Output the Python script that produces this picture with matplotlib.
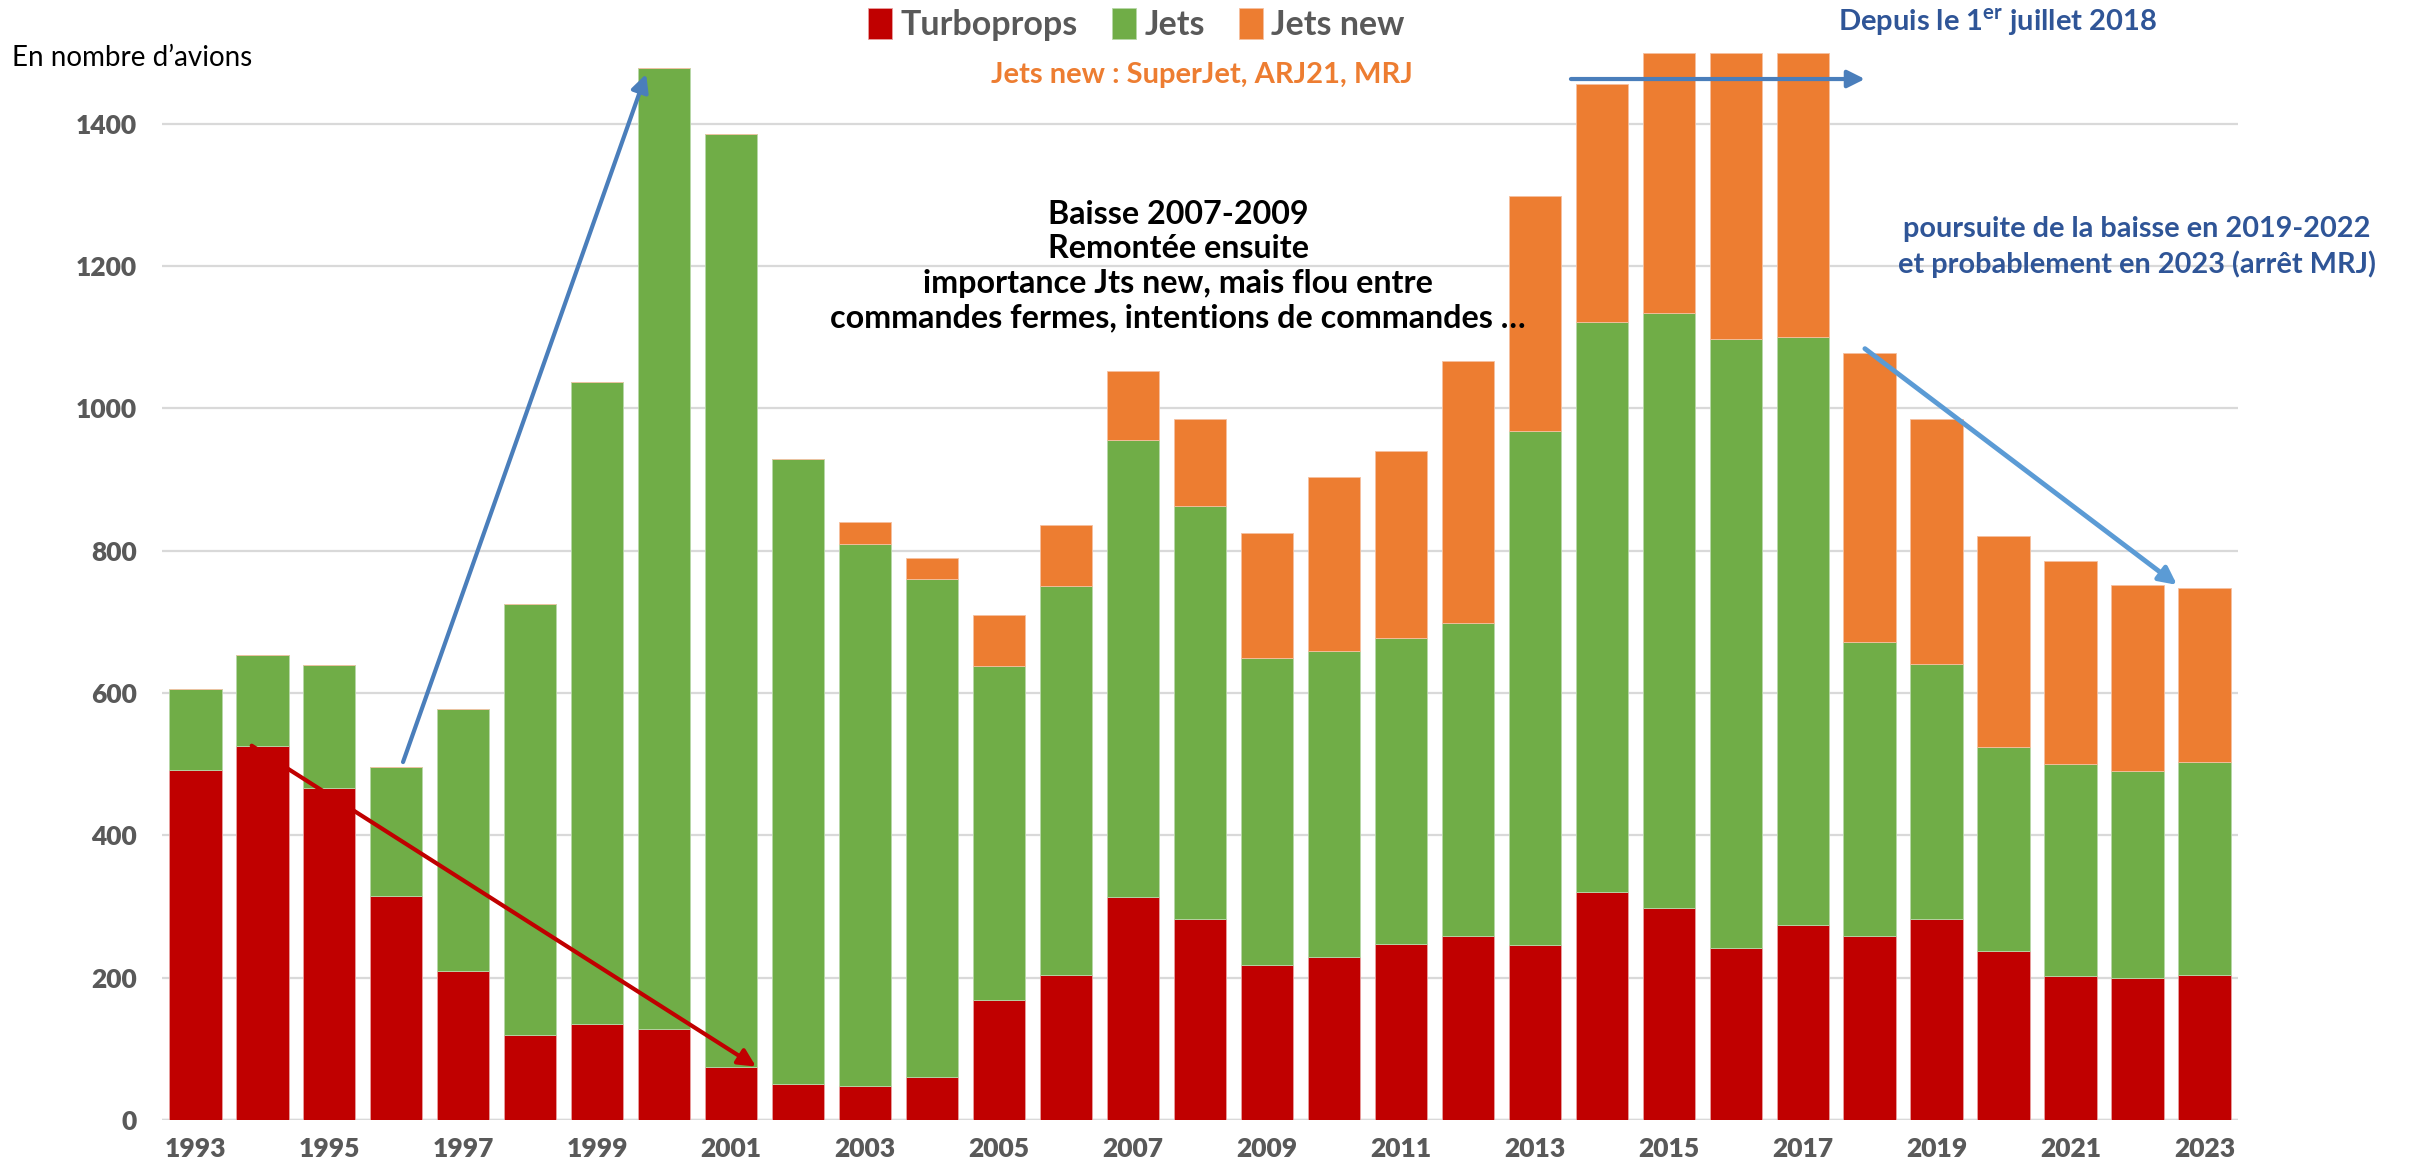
import matplotlib
matplotlib.use('Agg')
import matplotlib.pyplot as plt

plt.rcParams['font.family'] = ['Lato', 'DejaVu Sans']
plt.rcParams['mathtext.fontset'] = 'custom'
plt.rcParams['mathtext.rm'] = 'Lato'
plt.rcParams['mathtext.bf'] = 'Lato:bold'

years = list(range(1993, 2024))
turboprops = [492, 526, 466, 315, 209, 120, 135, 128, 75, 51,
              48, 60, 168, 204, 314, 283, 218, 229, 247, 258,
              246, 321, 298, 242, 274, 258, 283, 238, 203, 200, 204]
jets = [114, 128, 174, 181, 369, 605, 902, 1351, 1311, 878,
        761, 700, 470, 546, 641, 580, 431, 430, 430, 440,
        722, 801, 836, 856, 826, 414, 358, 286, 297, 291, 299]
jets_new = [0, 0, 0, 0, 0, 0, 0, 0, 0, 0,
            31, 30, 72, 86, 97, 122, 176, 244, 263, 368,
            331, 334, 366, 402, 400, 406, 344, 297, 285, 261, 244]
series_names = ['Turboprops', 'Jets', 'Jets new']
colors = ['#C00000', '#70AD47', '#ED7D31']
gray = '#595959'
blue_dark = '#2F5597'

fig = plt.figure(figsize=(24.1, 11.71), dpi=100)
ax = fig.add_axes([0.0672, 0.0436, 0.8614, 0.9114])

bottom2 = [a + b for a, b in zip(turboprops, jets)]
b1 = ax.bar(years, turboprops, width=0.78, color=colors[0], edgecolor='#e8a0a0', linewidth=0.6, zorder=2)
b2 = ax.bar(years, jets, width=0.78, bottom=turboprops, color=colors[1], edgecolor='#b8d8a8', linewidth=0.6, zorder=2)
b3 = ax.bar(years, jets_new, width=0.78, bottom=bottom2, color=colors[2], edgecolor='#f5c0a0', linewidth=0.6, zorder=2)

ax.set_xlim(1992.5, 2023.5)
ax.set_ylim(0, 1500)
ax.set_yticks(range(0, 1401, 200))
ax.set_xticks(years[::2])
ax.yaxis.grid(True, color='#d9d9d9', linewidth=1.6, zorder=0)
ax.set_axisbelow(True)
ax.axhline(0, color='#d9d9d9', linewidth=2.5, zorder=1)
for s in ax.spines.values():
    s.set_visible(False)
ax.tick_params(axis='both', length=0, labelsize=19, labelcolor=gray)
ax.tick_params(axis='y', pad=18)
ax.tick_params(axis='x', pad=12)
for lab in ax.get_xticklabels() + ax.get_yticklabels():
    lab.set_fontweight('heavy')

fig.legend([b1, b2, b3], series_names, loc='upper center', bbox_to_anchor=(0.4716, 1.019),
           ncol=3, frameon=False, handlelength=0.7, handleheight=1.0,
           handletextpad=0.25, columnspacing=1.0, labelcolor=gray,
           prop={'weight': 'bold', 'size': 24.5})

fig.text(0.005, 1 - 58 / 1171, 'En nombre d\u2019avions', fontsize=20, color='black', va='center', ha='left')
fig.text(1202 / 2410, 1 - 75 / 1171, 'Jets new : SuperJet, ARJ21, MRJ', fontsize=21,
         color='#ED7D31', fontweight='bold', ha='center', va='center')
fig.text(1997 / 2410, 1 - 22 / 1171, r'Depuis le 1$^{\mathbf{er}}$ juillet 2018', fontsize=21,
         color=blue_dark, fontweight='bold', ha='center', va='center')
fig.text(1178 / 2410, 1 - 266 / 1171,
         'Baisse 2007-2009\nRemontée ensuite\nimportance Jts new, mais flou entre\n'
         'commandes fermes, intentions de commandes \u2026',
         fontsize=23.2, color='black', fontweight='bold', ha='center', va='center', linespacing=1.22)
fig.text(2137 / 2410, 1 - 247 / 1171,
         'poursuite de la baisse en 2019-2022\net probablement en 2023 (arrêt MRJ)',
         fontsize=20.8, color=blue_dark, fontweight='bold', ha='center', va='center', linespacing=1.4)

arrow_kw = dict(arrowstyle='-|>', mutation_scale=26, shrinkA=0, shrinkB=0)
ax.annotate('', xy=(1999.73, 1470), xytext=(1996.1, 503),
            arrowprops=dict(color='#4A7EBB', lw=3, **arrow_kw), zorder=5)
ax.annotate('', xy=(2001.37, 75), xytext=(1993.84, 526),
            arrowprops=dict(color='#C00000', lw=3, **arrow_kw), zorder=5)
ax.annotate('', xy=(2017.93, 1463), xytext=(2013.54, 1463),
            arrowprops=dict(color='#4A7EBB', lw=3, **arrow_kw), zorder=5)
ax.annotate('', xy=(2022.59, 752), xytext=(2017.93, 1084),
            arrowprops=dict(color='#5B9BD5', lw=3.5, **arrow_kw), zorder=5)

fig.savefig('out.png', dpi=100)
